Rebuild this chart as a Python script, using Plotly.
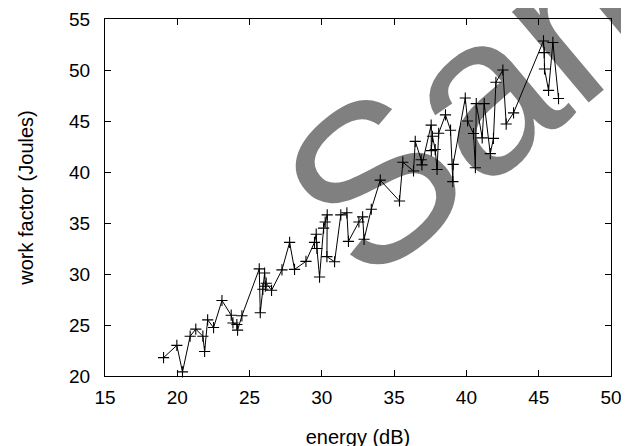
import plotly.graph_objects as go

energy_db = [19.05, 19.97, 20.36, 20.89, 21.28, 21.77, 21.89, 22.10, 22.51, 23.09,
             23.73, 23.85, 24.12, 24.17, 24.47, 25.67, 25.74, 25.92, 26.04, 26.09,
             26.15, 26.52, 27.24, 27.77, 28.11, 28.90, 29.49, 29.61, 29.66, 29.84,
             30.12, 30.23, 30.37, 30.35, 30.88, 31.31, 31.73, 31.84, 32.56, 32.82,
             32.92, 33.42, 34.04, 35.37, 35.60, 36.34, 36.46, 36.87, 36.92, 37.56,
             37.57, 37.65, 37.84, 37.97, 38.08, 38.55, 38.90, 39.06, 39.08, 39.92,
             40.08, 40.49, 40.62, 40.68, 41.09, 41.23, 41.65, 41.87, 42.04, 42.52,
             42.75, 43.26, 45.33, 45.38, 45.40, 45.68, 45.98, 46.37]

work_factor = [21.8, 23.0, 20.4, 23.9, 24.6, 23.9, 22.4, 25.5, 24.75, 27.4,
               25.96, 25.2, 25.05, 24.5, 25.9, 30.5, 26.2, 28.5, 30.1, 28.8,
               29.1, 28.4, 30.4, 33.1, 30.45, 31.24, 33.1, 33.9, 32.5, 29.7,
               34.5, 35.1, 35.8, 31.7, 31.2, 35.8, 36.0, 33.2, 35.1, 35.6,
               33.4, 36.35, 39.2, 37.16, 40.96, 40.1, 43.0, 41.2, 40.7, 44.6,
               42.1, 43.5, 42.2, 40.25, 43.8, 45.6, 44.1, 39.06, 40.75, 47.25,
               45.0, 43.77, 40.42, 46.7, 43.35, 46.7, 41.8, 43.3, 48.8, 50.0,
               44.7, 45.8, 52.85, 51.7, 50.1, 48.0, 52.7, 47.2]

x_ticks = [15, 20, 25, 30, 35, 40, 45, 50]
y_ticks = [20, 25, 30, 35, 40, 45, 50, 55]

watermark_text = "Sample"

# ---- style / placement constants ----
WM_X, WM_Y = 49.8, 58.4     # watermark word centre (axis units; may lie above the frame)
WM_ANGLE = -40
WM_SIZE = 225
FONT = "Liberation Sans, Arial, Helvetica, sans-serif"

fig = go.Figure()

# watermark: text of an invisible downward bar (drawn beneath the data line);
# the bar tip stays inside the y range so the text is kept.
fig.add_trace(go.Bar(
    x=[WM_X], y=[-8.0], base=[WM_Y + 4.0], width=[0.3],
    text=[watermark_text], textposition="inside", insidetextanchor="middle",
    textangle=WM_ANGLE, constraintext="none",
    textfont=dict(size=WM_SIZE, color="#808080", family=FONT),
    marker=dict(color="rgba(0,0,0,0)", line=dict(width=0)),
    cliponaxis=False, hoverinfo="skip", showlegend=False,
))

fig.add_trace(go.Scatter(
    x=energy_db, y=work_factor, mode="lines+markers",
    line=dict(color="black", width=1),
    marker=dict(symbol="cross-thin", size=8, line=dict(color="black", width=1.1)),
    showlegend=False, cliponaxis=False,
))

axis_common = dict(
    showline=True, linecolor="black", linewidth=1, mirror="ticks",
    ticks="inside", ticklen=6, tickcolor="black", tickwidth=1,
    showgrid=False, zeroline=False, automargin=False,
    tickfont=dict(family=FONT, size=19, color="black"),
)

fig.update_layout(
    width=629, height=446,
    margin=dict(l=97, r=26, t=11, b=78),
    paper_bgcolor="white", plot_bgcolor="white",
    font=dict(family=FONT, color="black"),
    xaxis=dict(range=[15, 50], tickvals=x_ticks, ticklabelstandoff=4,
               title=dict(text="energy (dB)", font=dict(family=FONT, size=20, color="black"), standoff=23),
               **axis_common),
    yaxis=dict(range=[20, 55], tickvals=y_ticks, ticklabelstandoff=10,
               title=dict(text="work factor (Joules)", font=dict(family=FONT, size=20, color="black"), standoff=30),
               **axis_common),
    bargap=0,
)

fig.write_html("out.html")
